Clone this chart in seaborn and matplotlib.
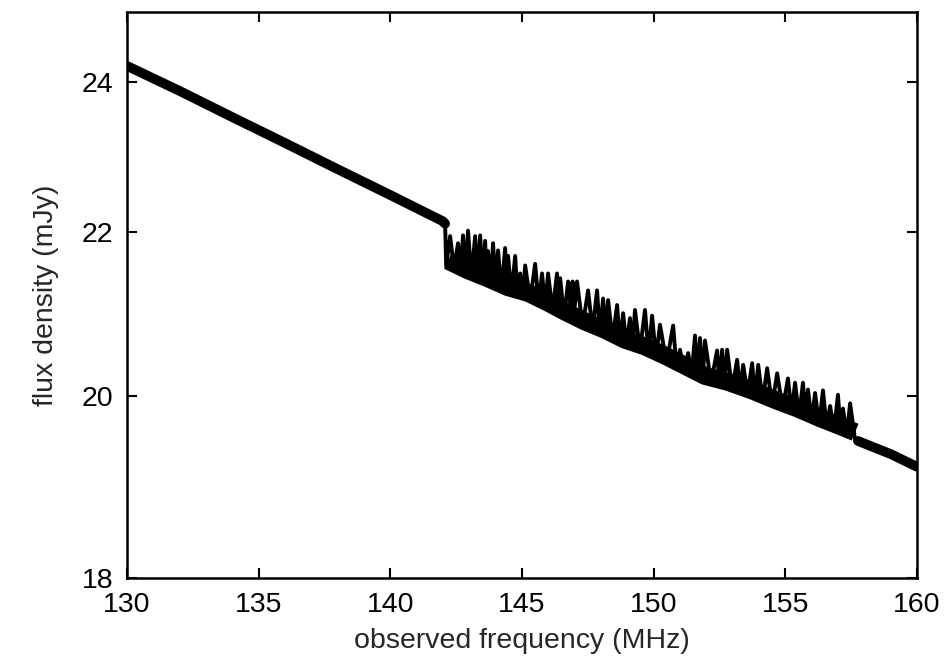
import matplotlib
matplotlib.use('Agg')
import matplotlib.pyplot as plt
from matplotlib.ticker import NullLocator, FixedLocator, FixedFormatter
import numpy as np
import pandas as pd
import seaborn as sns

# smooth continuum below the forest (130-142 MHz)
low_freq = [130.0, 132.0, 134.0, 136.0, 138.0, 140.0, 142.0, 142.08]
low_flux = [24.23, 23.88, 23.52, 23.17, 22.82, 22.48, 22.14, 22.11]

# 21-cm forest region (troughs and transmission spikes)
forest_freq = [142.12, 142.27, 142.42, 142.57, 142.67, 142.76, 142.86, 142.95, 143.08, 143.22,
               143.31, 143.41, 143.50, 143.60, 143.65, 143.71, 143.81, 143.90, 144.00, 144.09,
               144.22, 144.36, 144.41, 144.47, 144.60, 144.74, 144.83, 144.93, 145.02, 145.12,
               145.31, 145.50, 145.63, 145.76, 145.88, 145.99, 146.16, 146.33, 146.39, 146.45,
               146.60, 146.75, 146.86, 146.92, 146.98, 147.09, 147.30, 147.51, 147.68, 147.85,
               147.96, 148.08, 148.17,
               148.27, 148.44, 148.61, 148.72, 148.84, 148.97, 149.10, 149.20, 149.29, 149.48,
               149.67, 149.81, 149.94, 150.09, 150.24, 150.49, 150.74, 150.87, 151.00, 151.15,
               151.31, 151.44, 151.57, 151.67, 151.76, 151.86, 151.95, 152.18, 152.41, 152.50,
               152.60, 152.69, 152.79, 152.98, 153.17, 153.28, 153.40, 153.57, 153.74, 153.85,
               153.97, 154.14, 154.31, 154.50, 154.69, 154.90, 155.10, 155.24, 155.37, 155.52,
               155.67, 155.77, 155.86, 156.00, 156.13, 156.28, 156.43, 156.57, 156.70, 156.85,
               157.00, 157.10, 157.19, 157.33, 157.46, 157.65]
forest_flux = [21.57, 21.95, 21.54, 21.86, 21.49, 21.96, 21.46, 22.02, 21.43, 21.95,
               21.40, 21.96, 21.37, 21.89, 21.35, 21.76, 21.33, 21.86, 21.30, 21.77,
               21.27, 21.80, 21.25, 21.70, 21.22, 21.70, 21.20, 21.48, 21.17, 21.58,
               21.15, 21.60, 21.10, 21.48, 21.07, 21.48, 21.02, 21.48, 20.98, 21.42,
               20.94, 21.38, 21.02, 21.38, 21.00, 21.38, 20.83, 21.27, 20.78, 21.27,
               20.74, 21.17, 20.72,
               21.15, 20.67, 21.09, 20.62, 20.99, 20.59, 20.93, 20.56, 21.03, 20.54,
               21.03, 20.49, 20.96, 20.45, 20.85, 20.39, 20.84, 20.33, 20.55, 20.30,
               20.51, 20.25, 20.72, 20.21, 20.69, 20.19, 20.66, 20.16, 20.54, 20.14,
               20.55, 20.11, 20.55, 20.08, 20.43, 20.06, 20.37, 20.02, 20.39, 19.98,
               20.37, 19.95, 20.33, 19.90, 20.27, 19.85, 20.21, 19.81, 20.16, 19.77,
               20.16, 19.75, 20.08, 19.72, 20.04, 19.67, 20.07, 19.65, 19.89, 19.61,
               20.02, 19.59, 19.86, 19.55, 19.92, 19.50]

# dense absorption floor of the forest (noisy band under the spikes)
floor_freq = [142.19, 142.95, 143.71, 144.47, 145.23, 145.99, 146.63, 147.39, 148.15, 148.91,
              149.67, 150.43, 151.19, 151.95, 152.82, 153.74, 154.61, 155.48, 156.32, 157.08,
              157.65]
floor_flux = [21.64, 21.52, 21.42, 21.31, 21.24, 21.12, 21.01, 20.89, 20.79, 20.67,
              20.59, 20.48, 20.36, 20.24, 20.17, 20.07, 19.96, 19.86, 19.75, 19.66,
              19.59]

# continuum above the forest
high_freq = [157.76, 159.02, 160.0]
high_flux = [19.49, 19.34, 19.20]

xticks = [130, 135, 140, 145, 150, 155, 160]
yticks = [18, 20, 22, 24]

spec = pd.DataFrame({
    'freq': low_freq + forest_freq + high_freq,
    'flux': low_flux + forest_flux + high_flux,
})
floor = pd.DataFrame({'freq': floor_freq, 'flux': floor_flux})
cont_lo = pd.DataFrame({'freq': low_freq, 'flux': low_flux})
cont_hi = pd.DataFrame({'freq': high_freq, 'flux': high_flux})

sns.set_style('ticks')
plt.rcParams['font.family'] = ['Liberation Sans', 'DejaVu Sans']

fig = plt.figure(figsize=(9.53, 6.61), dpi=100)
ax = fig.add_axes([0.1333, 0.1256, 0.8289, 0.8562])

sns.lineplot(data=spec, x='freq', y='flux', ax=ax, color='black', lw=2.8, sort=False,
             estimator=None)
sns.lineplot(data=floor, x='freq', y='flux', ax=ax, color='black', lw=13, sort=False,
             estimator=None, solid_capstyle='butt')
sns.lineplot(data=cont_lo, x='freq', y='flux', ax=ax, color='black', lw=7, sort=False,
             estimator=None, solid_capstyle='round')
sns.lineplot(data=cont_hi, x='freq', y='flux', ax=ax, color='black', lw=7, sort=False,
             estimator=None, solid_capstyle='round')

ax.set_yscale('log')
ax.set_xlim(130, 160)
ax.set_ylim(18, 25)
ax.xaxis.set_major_locator(FixedLocator(xticks))
ax.yaxis.set_major_locator(FixedLocator(yticks))
ax.yaxis.set_major_formatter(FixedFormatter([str(t) for t in yticks]))
ax.yaxis.set_minor_locator(NullLocator())
ax.xaxis.set_minor_locator(NullLocator())

ax.tick_params(direction='in', length=7, width=1.5, top=True, right=True,
               labelsize=20.5, pad=10, colors='black')
for s in ax.spines.values():
    s.set_linewidth(1.8)
    s.set_color('black')

ax.set_xlabel('observed frequency (MHz)', fontsize=20.5, labelpad=7)
ax.set_ylabel('flux density (mJy)', fontsize=20.5, labelpad=16)

fig.savefig('out.png', dpi=100)
